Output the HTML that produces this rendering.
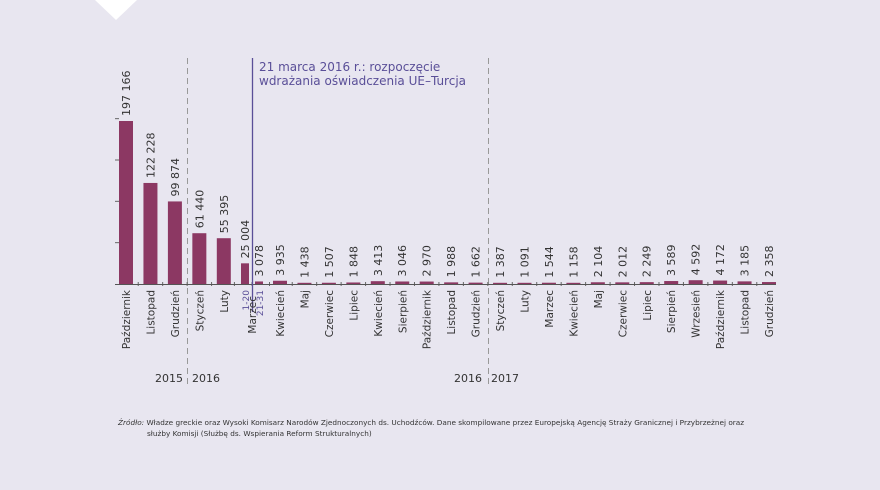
<!DOCTYPE html>
<html><head><meta charset="utf-8">
<style>
html,body{margin:0;padding:0;background:#e8e6f0;}
svg{display:block;font-family:"DejaVu Sans","Liberation Sans",sans-serif;}
</style></head>
<body>
<svg id="chart" width="880" height="490" viewBox="0 0 880 490">
<rect x="0" y="0" width="880" height="490" fill="#e8e6f0"/>
<polygon points="95,0 137,0 116,20" fill="#ffffff"/>
<g id="marks"></g>
<text x="259" y="71" font-size="12" fill="#5a4f98">21 marca 2016 r.: rozpoczęcie</text>
<text x="259" y="85" font-size="12" fill="#5a4f98">wdrażania oświadczenia UE–Turcja</text>
<text x="183" y="382" font-size="11" fill="#333" text-anchor="end">2015</text>
<text x="192" y="382" font-size="11" fill="#333">2016</text>
<text x="482" y="382" font-size="11" fill="#333" text-anchor="end">2016</text>
<text x="491" y="382" font-size="11" fill="#333">2017</text>
<text x="118" y="425" font-size="7.3" fill="#333"><tspan font-style="italic">Źródło:</tspan>  Władze greckie oraz Wysoki Komisarz Narodów Zjednoczonych ds. Uchodźców. Dane skompilowane przez Europejską Agencję Straży Granicznej i Przybrzeżnej oraz</text>
<text x="147" y="436" font-size="7.3" fill="#333">służby Komisji (Służbę ds. Wspierania Reform Strukturalnych)</text>
</svg>
<script>
const categories = ["Październik","Listopad","Grudzień","Styczeń","Luty","1-20","21-31","Kwiecień","Maj","Czerwiec","Lipiec","Kwiecień","Sierpień","Październik","Listopad","Grudzień","Styczeń","Luty","Marzec","Kwiecień","Maj","Czerwiec","Lipiec","Sierpień","Wrzesień","Październik","Listopad","Grudzień"];
const values = [197166,122228,99874,61440,55395,25004,3078,3935,1438,1507,1848,3413,3046,2970,1988,1662,1387,1091,1544,1158,2104,2012,2249,3589,4592,4172,3185,2358];
const valueLabels = ["197 166","122 228","99 874","61 440","55 395","25 004","3 078","3 935","1 438","1 507","1 848","3 413","3 046","2 970","1 988","1 662","1 387","1 091","1 544","1 158","2 104","2 012","2 249","3 589","4 592","4 172","3 185","2 358"];
const yTicks = [0,50000,100000,150000,200000];

const NS = "http://www.w3.org/2000/svg";
const g = document.getElementById("marks");
const baseY = 284, yMax = 197166, yTopPx = 121;
function yScale(v){ return baseY - v/yMax*(baseY - yTopPx); }
const step = 24.45;
function xPos(i){
  if(i<=4) return 126 + step*i;
  if(i===5) return 245;
  if(i===6) return 259;
  return 280 + step*(i-7);
}
function mk(tag, attrs){ const e=document.createElementNS(NS,tag); for(const k in attrs) e.setAttribute(k,attrs[k]); g.appendChild(e); return e; }

// y ticks
yTicks.forEach((t,i)=>{
  const y=yScale(t);
  if(t===0) return;
  const e=mk("line",{x1:115,x2:119,y1:y,y2:y,stroke:"#666","stroke-width":1});
  
  
});

// dashed separators
[[187.5],[488.5]].forEach(([x])=>{
  const e=mk("line",{x1:x,x2:x,y1:58,y2:386,stroke:"#999","stroke-width":1,"stroke-dasharray":"6,4"});
  
  
});

values.forEach((v,i)=>{
  const x=xPos(i);
  const half = (i===5||i===6);
  const w = half?8:14;
  const y=yScale(v);
  const h=Math.max(baseY-y,1.2);
  const b=mk("rect",{x:x-w/2,y:baseY-h,width:w,height:h,fill:"#8c3863"});
  
  
  const lx = x+4, ly = baseY-h-5;
  const t=mk("text",{x:lx,y:ly,"font-size":11,fill:"#333",transform:`rotate(-90 ${lx} ${ly})`});
  t.textContent=valueLabels[i];
  
  
  const cx = x+4, cy = 290;
  const c=mk("text",{x:cx,y:cy,"font-size":half?9:10.5,fill:half?"#5a4f98":"#333","text-anchor":"end",transform:`rotate(-90 ${cx} ${cy})`});
  c.textContent=categories[i];
  
  
  if(i<values.length-1){
    const tx=(i===5)?252:(xPos(i)+xPos(i+1))/2;
    const tk=mk("line",{x1:tx,x2:tx,y1:baseY-2,y2:baseY+2,stroke:"#666","stroke-width":1});
    
    
  }
});

const base=mk("line",{x1:115,x2:776,y1:baseY+0.5,y2:baseY+0.5,stroke:"#555","stroke-width":1});



const ev=mk("line",{x1:252.5,x2:252.5,y1:58,y2:312,stroke:"#5a4f98","stroke-width":1.3});



const mz=mk("text",{x:256,y:296,"font-size":10.5,fill:"#333","text-anchor":"end",transform:"rotate(-90 256 296)"});
mz.textContent="Marzec";


</script>
</body></html>
